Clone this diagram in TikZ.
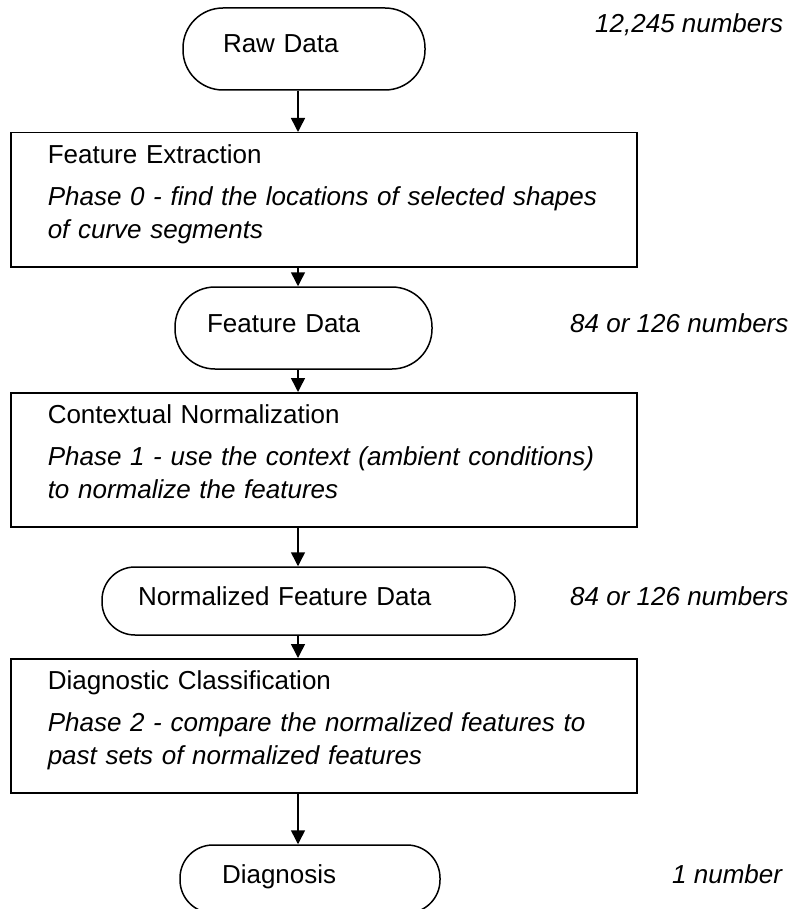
\documentclass[tikz,border=0pt]{standalone}
\usepackage{fontspec}
\setmainfont{Liberation Sans}
\usetikzlibrary{arrows.meta}
\tikzset{term/.style={draw, line width=1.5pt, align=left, inner ysep=0pt, text height=19pt, text depth=11pt, font=\fontsize{26}{30}\selectfont},
  phase/.style={draw, line width=1.5pt, anchor=north west, align=left, text width=552pt, inner xsep=37pt, inner ysep=0pt, minimum height=134pt, font=\fontsize{26}{33}\selectfont},
  count/.style={anchor=base west, inner sep=0pt, font=\fontsize{26}{30}\selectfont\itshape},
  flow/.style={line width=1.5pt, -{Triangle[width=14pt,length=14pt]}}}
\newcommand{\lowend}{\rule[-16pt]{0pt}{16pt}}

\begin{document}
\begin{tikzpicture}[x=1pt, y=-1pt]
    \useasboundingbox (0,0) rectangle (796,909);
    \clip (0,0) rectangle (796,909);
    \coordinate (spine) at (298,0);
    % terminals
    \node [term, rounded corners=40pt, text width=162pt, inner xsep=40pt, minimum height=82pt] (raw) at (304,49) {Raw Data};
    \node [term, rounded corners=40pt, text width=193pt, inner xsep=32pt, minimum height=82pt] (feat) at (303.5,328) {Feature Data};
    \node [term, rounded corners=33pt, text width=341pt, inner xsep=36pt, minimum height=68pt] (norm) at (308.5,601) {Normalized Feature Data};
    \node [term, rounded corners=33pt, text width=176pt, inner xsep=42pt, minimum height=68pt] (diag) at (310,879) {Diagnosis};
    % phases
    \node [phase] (extr) at (10,132) {Feature Extraction\\[9pt]
      \itshape Phase 0 - find the locations of selected shapes\\
      \itshape of curve segments\lowend};
    \node [phase] (ctx) at (10,392) {Contextual Normalization\\[9pt]
      \itshape Phase 1 - use the context (ambient conditions)\\
      \itshape to normalize the features\lowend};
    \node [phase] (cls) at (10,658) {Diagnostic Classification\\[9pt]
      \itshape Phase 2 - compare the normalized features to\\
      \itshape past sets of normalized features\lowend};
    % sizes
    \node [count] (n0) at (595,33) {12,245 numbers};
    \node [count] (n1) at (570,332) {84 or 126 numbers};
    \node [count] (n2) at (570,605) {84 or 126 numbers};
    \node [count] (n3) at (672,883) {1 number};
    \draw [flow] (raw.south -| spine) -- (extr.north -| spine);
    \draw [flow] (extr.south -| spine) -- (feat.north -| spine);
    \draw [flow] (feat.south -| spine) -- (ctx.north -| spine);
    \draw [flow] (ctx.south -| spine) -- (norm.north -| spine);
    \draw [flow] (norm.south -| spine) -- (cls.north -| spine);
    \draw [flow] (cls.south -| spine) -- (diag.north -| spine);
  \end{tikzpicture}
\end{document}
